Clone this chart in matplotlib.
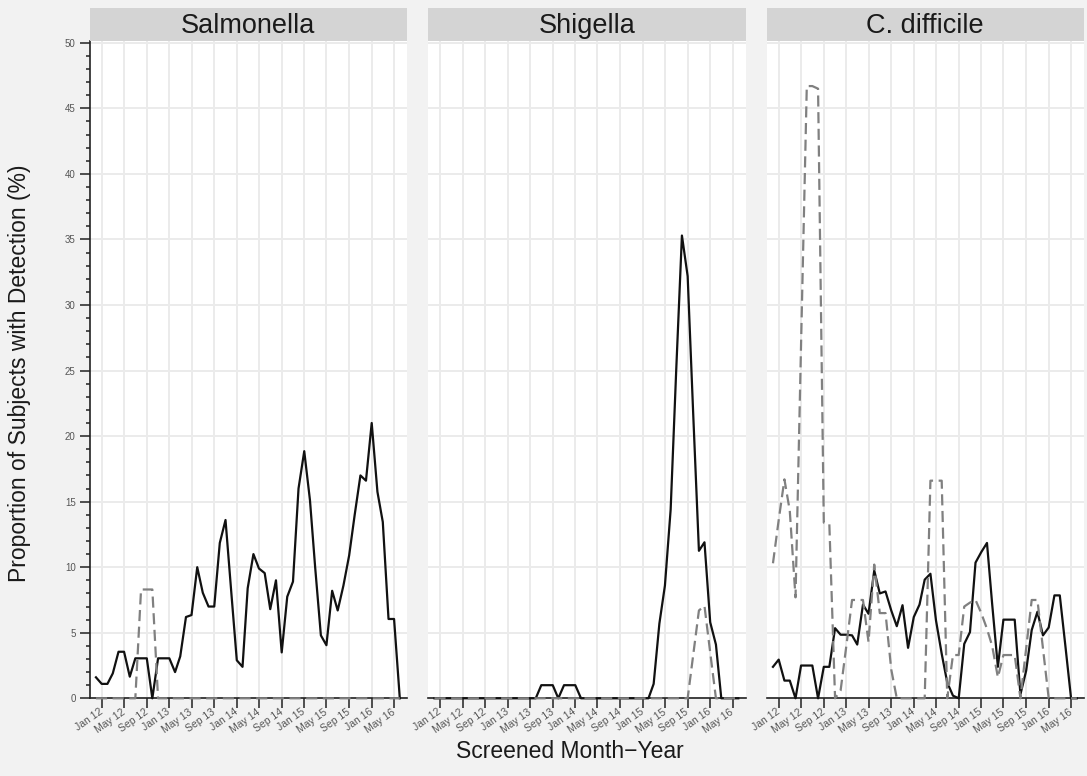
import numpy as np
import pandas as pd
import matplotlib
matplotlib.use('Agg')
import matplotlib.pyplot as plt
import matplotlib.dates as mdates
from matplotlib.ticker import MultipleLocator

plt.rcParams['font.family'] = ['Liberation Sans', 'DejaVu Sans']

# ---------- data ----------
months = pd.date_range('2011-12-01', '2016-06-01', freq='MS')   # Dec 11 .. Jun 16
panels = ['Salmonella', 'Shigella', 'C. difficile']

salmonella_solid = [1.6, 1.1, 1.1, 1.9, 3.55, 3.55, 1.65, 3.05, 3.05, 3.05,
                    0, 3.05, 3.05, 3.05, 2.0, 3.2, 6.2, 6.35, 10.0, 8.05,
                    7.0, 7.0, 11.85, 13.6, 8.3, 2.9, 2.4, 8.4, 11.0, 9.9,
                    9.55, 6.8, 9.0, 3.5, 7.75, 8.9, 16.0, 18.85, 15.1, 10.0,
                    4.8, 4.05, 8.2, 6.7, 8.6, 10.9, 14.0, 17.0, 16.6, 21.0,
                    15.75, 13.45, 6.05, 6.05, 0]
salmonella_dashed = [0, 0, 0, 0, 0, 0, 0, 0, 8.3, 8.3,
                     8.3, 0, 0, 0, 0, 0, 0, 0, 0, 0,
                     0, 0, 0, 0, 0, 0, 0, 0, 0, 0,
                     0, 0, 0, 0, 0, 0, 0, 0, 0, 0,
                     0, 0, 0, 0, 0, 0, 0, 0, 0, 0,
                     0, 0, 0, 0, 0]

shigella_solid = [0, 0, 0, 0, 0, 0, 0, 0, 0, 0,
                  0, 0, 0, 0, 0, 0, 0, 0, 0, 1.0,
                  1.0, 1.0, 0, 1.0, 1.0, 1.0, 0, 0, 0, 0,
                  0, 0, 0, 0, 0, 0, 0, 0, 0, 1.1,
                  5.7, 8.6, 14.4, 25.0, 35.3, 32.2, 21.7, 11.25, 11.9, 5.8,
                  4.1, 0, 0, 0, 0]
shigella_dashed = [0, 0, 0, 0, 0, 0, 0, 0, 0, 0,
                   0, 0, 0, 0, 0, 0, 0, 0, 0, 0,
                   0, 0, 0, 0, 0, 0, 0, 0, 0, 0,
                   0, 0, 0, 0, 0, 0, 0, 0, 0, 0,
                   0, 0, 0, 0, 0, 0, 3.3, 6.7, 7.05, 3.5,
                   0, 0, 0, 0, 0]

cdiff_solid = [2.4, 2.95, 1.35, 1.35, 0, 2.5, 2.5, 2.5, 0, 2.4,
               2.4, 5.35, 4.85, 4.85, 4.8, 4.1, 7.15, 6.45, 9.75, 8.0,
               8.15, 6.7, 5.5, 7.1, 3.85, 6.2, 7.15, 9.05, 9.5, 5.95,
               3.4, 1.2, 0.2, 0, 4.15, 5.05, 10.35, 11.15, 11.85, 7.2,
               2.4, 6.0, 6.0, 6.0, 0.3, 2.1, 5.2, 6.6, 4.8, 5.4,
               7.85, 7.85, 3.9, 0, 0]
cdiff_dashed = [10.3, 13.6, 16.7, 14.3, 7.7, 27.0, 46.7, 46.7, 46.5, 13.4,
                13.3, 0, 0.6, 4.0, 7.5, 7.5, 7.5, 4.3, 10.2, 6.5,
                6.5, 2.2, 0, 0, 0, 0, 0, 0, 16.6, 16.6,
                16.6, 0, 3.3, 3.3, 7.0, 7.3, 7.5, 6.5, 5.3, 4.0,
                1.6, 3.3, 3.3, 3.3, 0, 3.8, 7.5, 7.5, 3.8, 0,
                0, 0, 0, 0, 0]

solid_series = [salmonella_solid, shigella_solid, cdiff_solid]
dashed_series = [salmonella_dashed, shigella_dashed, cdiff_dashed]

# ---------- layout ----------
W, H = 1087, 776
fig = plt.figure(figsize=(W / 100, H / 100), dpi=100, facecolor='#F2F2F2')

lefts = [89.5, 428, 766.5]
pw = 317.5
top, bottom = 41.5, 698.3
strip_top, strip_bot = 8, 41

x_lo = pd.Timestamp('2011-10-27')
x_hi = pd.Timestamp('2016-07-10')

for k in range(3):
	ax = fig.add_axes([lefts[k] / W, 1 - bottom / H, pw / W, (bottom - top) / H])
	ax.set_facecolor('white')

	ax.plot(months, solid_series[k], color='#111111', lw=1.6, clip_on=False, zorder=3)
	ax.plot(months, dashed_series[k], color='#808080', lw=1.6,
			dashes=(5, 2.5), clip_on=False, zorder=4)

	ax.set_xlim(x_lo, x_hi)
	ax.set_ylim(0, 50.1)

	ax.xaxis.set_major_locator(mdates.MonthLocator(bymonth=[1, 5, 9]))
	ax.xaxis.set_major_formatter(mdates.DateFormatter('%b %y'))
	ax.yaxis.set_major_locator(MultipleLocator(5))
	ax.yaxis.set_minor_locator(MultipleLocator(1))

	ax.set_axisbelow(True)
	ax.grid(True, which='major', color='#EBEBEB', lw=1.4)

	for s in ['top', 'right']:
		ax.spines[s].set_visible(False)
	ax.spines['bottom'].set_color('#222222')
	ax.spines['bottom'].set_linewidth(1.2)
	ax.spines['left'].set_color('#222222')
	ax.spines['left'].set_linewidth(1.2)

	ax.tick_params(axis='x', length=7, width=1.1, color='#222222',
				   labelsize=7.5, labelcolor='#555555', pad=2)
	for lab in ax.get_xticklabels():
		lab.set_rotation(35)
		lab.set_ha('right')
		lab.set_va('center')
		lab.set_rotation_mode('anchor')

	if k == 0:
		ax.tick_params(axis='y', which='major', length=7, width=1.1, color='#222222',
					   labelsize=7, labelcolor='#555555', pad=3)
		ax.tick_params(axis='y', which='minor', length=3, width=1.1, color='#222222')
	else:
		ax.spines['left'].set_visible(False)
		ax.tick_params(axis='y', which='both', left=False, labelleft=False)

	# facet strip
	sx = fig.add_axes([lefts[k] / W, 1 - strip_bot / H, pw / W, (strip_bot - strip_top) / H])
	sx.set_facecolor('#D4D4D4')
	sx.set_xticks([])
	sx.set_yticks([])
	for s in sx.spines.values():
		s.set_visible(False)
	sx.text(0.5, 0.45, panels[k], ha='center', va='center', fontsize=19.5,
			color='#1A1A1A', transform=sx.transAxes)

fig.text(20 / W, 1 - 373 / H, 'Proportion of Subjects with Detection (%)',
		 rotation=90, ha='center', va='center', fontsize=16.5, color='#1A1A1A')
fig.text(570 / W, 1 - 752 / H, 'Screened Month\u2212Year',
		 ha='center', va='center', fontsize=16.5, color='#1A1A1A')

fig.savefig('out.png', dpi=100, facecolor=fig.get_facecolor())
